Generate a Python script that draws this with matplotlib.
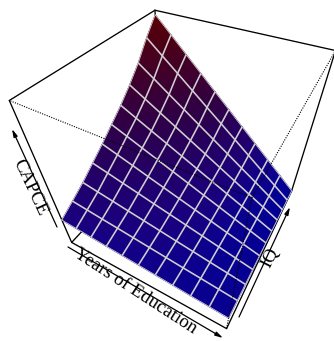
import numpy as np
import matplotlib
matplotlib.use("Agg")
import matplotlib.pyplot as plt
from matplotlib.colors import LinearSegmentedColormap, Normalize

plt.rcParams["text.hinting"] = "no_hinting"

# ---- data (normalised to the plot box) ----
years_of_education = [0.0, 0.1, 0.2, 0.3, 0.4, 0.5, 0.6, 0.7, 0.8, 0.9, 1.0]
iq = [0.0, 0.1, 0.2, 0.3, 0.4, 0.5, 0.6, 0.7, 0.8, 0.9, 1.0]
capce = [
    [.222, .213, .204, .194, .185, .176, .167, .158, .148, .139, .130],
    [.275, .259, .243, .228, .212, .196, .180, .164, .149, .133, .117],
    [.330, .307, .285, .262, .240, .217, .194, .172, .149, .127, .104],
    [.395, .365, .334, .304, .273, .243, .213, .182, .152, .121, .091],
    [.460, .422, .384, .345, .307, .269, .231, .193, .154, .116, .078],
    [.530, .484, .437, .391, .344, .298, .251, .205, .158, .112, .065],
    [.600, .545, .490, .436, .381, .326, .271, .216, .162, .107, .052],
    [.680, .616, .552, .488, .424, .360, .295, .231, .167, .103, .039],
    [.770, .696, .621, .547, .472, .398, .324, .249, .175, .100, .026],
    [.880, .793, .707, .620, .533, .447, .360, .273, .186, .100, .013],
    [.975, .878, .780, .683, .585, .488, .390, .293, .195, .098, .000],
]
x_label = "Years of Education"
y_label = "IQ"
z_label = "CAPCE"

# ---- camera: where the box corners (x, y, z) fall on the canvas ----
box_corners = {
    (0, 0, 0): (71, 240), (1, 0, 0): (226, 330), (1, 1, 0): (293, 187), (0, 1, 0): (164, 147),
    (0, 0, 1): (11, 99), (1, 0, 1): (252, 202), (1, 1, 1): (334, 52), (0, 1, 1): (155, 8),
}
rows = []
for (a, b, c), (u, v) in box_corners.items():
    rows.append([a, b, c, 1, 0, 0, 0, 0, -u * a, -u * b, -u * c, -u])
    rows.append([0, 0, 0, 0, a, b, c, 1, -v * a, -v * b, -v * c, -v])
P = np.linalg.svd(np.array(rows, float))[2][-1].reshape(3, 4)


def project(x, y, z):
    x, y, z = np.asarray(x, float), np.asarray(y, float), np.asarray(z, float)
    h = P @ np.stack([x, y, z, np.ones_like(x)]).reshape(4, -1)
    return (h[0] / h[2]).reshape(x.shape), (h[1] / h[2]).reshape(x.shape)


def edge(ax, p, q, **kw):
    xs, ys = project([p[0], q[0]], [p[1], q[1]], [p[2], q[2]])
    ax.plot(xs, ys, solid_capstyle="round", **kw)


fig = plt.figure(figsize=(3.34, 3.41), dpi=100)
ax = fig.add_axes([0, 0, 1, 1])
ax.set_xlim(0, 334)
ax.set_ylim(341, 0)
ax.axis("off")

solid = dict(color="black", lw=0.95)
for p, q in [((0, 0, 0), (1, 0, 0)), ((1, 0, 0), (1, 1, 0)), ((1, 1, 0), (1, 1, 1)),
             ((1, 1, 1), (0, 1, 1)), ((0, 1, 1), (0, 0, 1)), ((0, 0, 1), (0, 0, 0)),
             ((0, 0, 0), (0, 1, 0)), ((0, 1, 0), (1, 1, 0)), ((0, 1, 0), (0, 1, 1))]:
    edge(ax, p, q, zorder=1, **solid)

# ---- surface ----
XG, YG = np.meshgrid(years_of_education, iq)
Z = np.array(capce)
SX, SY = project(XG, YG, Z)
cmap = LinearSegmentedColormap.from_list(
    "capce",
    [(0.0, "#000096"), (0.15, "#0a0090"), (0.22, "#1a0080"), (0.53, "#300046"), (1.0, "#5a0000")],
)
ax.pcolormesh(SX, SY, Z, shading="gouraud", cmap=cmap, norm=Normalize(0, 1), zorder=2)

inner = dict(color="#cfcfcf", lw=1.15, zorder=3, solid_capstyle="butt")
for i in range(1, len(iq) - 1):
    ax.plot(SX[i, :], SY[i, :], **inner)
for j in range(1, len(years_of_education) - 1):
    ax.plot(SX[:, j], SY[:, j], **inner)
bx = np.r_[SX[0, :], SX[:, -1], SX[-1, ::-1], SX[::-1, 0]]
by = np.r_[SY[0, :], SY[:, -1], SY[-1, ::-1], SY[::-1, 0]]
ax.plot(bx, by, color="#d0d0d0", lw=0.6, zorder=3)

# ---- hidden box edges ----
dotted = dict(color="black", lw=0.8, ls=(0, (1, 1.2)), zorder=4)
for q in [(1, 0, 0), (0, 0, 1), (1, 1, 1)]:
    edge(ax, (1, 0, 1), q, **dotted)

# ---- axis arrows and titles ----
arrow = dict(arrowstyle="-|>,head_width=0.12,head_length=0.45", color="black", lw=0.9,
             shrinkA=0, shrinkB=0, mutation_scale=10)
ax.annotate("", xy=(223, 338), xytext=(68, 247), arrowprops=arrow, zorder=5)
ax.annotate("", xy=(290, 207), xytext=(239, 317), arrowprops=arrow, zorder=5)
ax.annotate("", xy=(12, 129), xytext=(57, 227), arrowprops=arrow, zorder=5)
serif = dict(family="Liberation Serif", fontsize=13.5, ha="center", va="center",
             rotation_mode="anchor", color="black", zorder=6)
ax.text(136, 291, x_label, rotation=-33, **serif)
ax.text(270, 258, y_label, rotation=63, **serif)
ax.text(30, 187, z_label, rotation=-65, **serif)

fig.savefig("out.png", dpi=100)
